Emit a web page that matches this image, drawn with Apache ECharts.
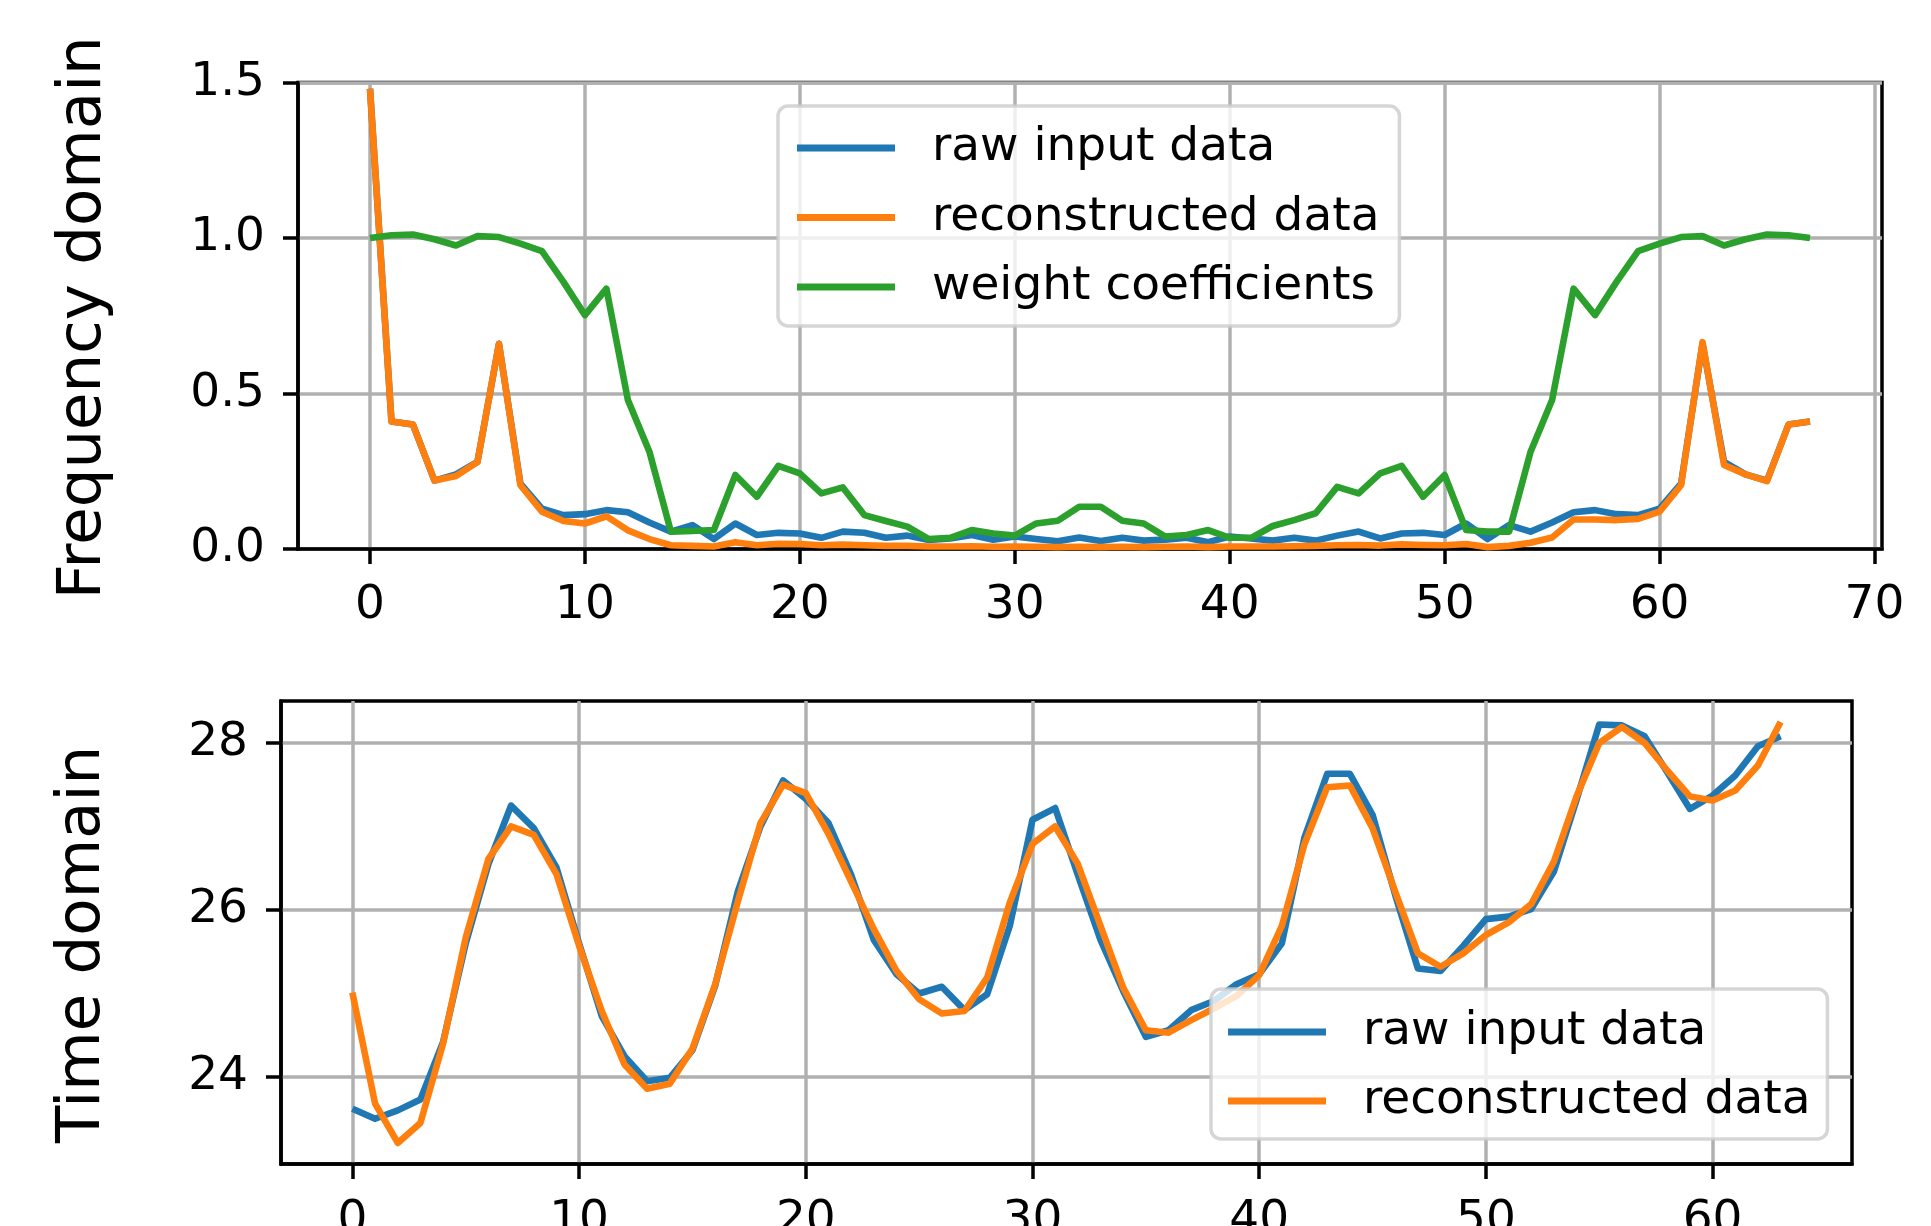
<!DOCTYPE html>
<html>
<head>
<meta charset="utf-8">
<script src="https://cdn.jsdelivr.net/npm/echarts@6/dist/echarts.min.js"></script>
<style>
html,body{margin:0;padding:0;background:#fff;}
#chart{width:1931px;height:1226px;}
</style>
</head>
<body>
<div id="chart"></div>
<script>
// ---- Data ----
const freqRaw = [1.48, 0.41, 0.40, 0.22, 0.24, 0.28, 0.66, 0.21, 0.13, 0.109,
  0.112, 0.125, 0.118, 0.085, 0.056, 0.077, 0.032, 0.082, 0.045, 0.052,
  0.050, 0.036, 0.056, 0.052, 0.036, 0.043, 0.029, 0.034, 0.045, 0.030,
  0.040, 0.032, 0.025, 0.037, 0.026, 0.036, 0.027, 0.030, 0.036, 0.022,
  0.040, 0.034, 0.027, 0.036, 0.027, 0.043, 0.056, 0.034, 0.050, 0.052,
  0.045, 0.082, 0.032, 0.077, 0.056, 0.085, 0.118, 0.125, 0.112, 0.109,
  0.130, 0.210, 0.660, 0.280, 0.240, 0.220, 0.400, 0.410];
const freqRecon = [1.48, 0.41, 0.40, 0.22, 0.235, 0.28, 0.66, 0.205, 0.12, 0.09,
  0.082, 0.105, 0.060, 0.032, 0.012, 0.010, 0.008, 0.022, 0.012, 0.017,
  0.016, 0.012, 0.014, 0.012, 0.010, 0.010, 0.008, 0.008, 0.009, 0.007,
  0.008, 0.007, 0.006, 0.007, 0.006, 0.007, 0.006, 0.007, 0.008, 0.006,
  0.008, 0.008, 0.008, 0.009, 0.010, 0.012, 0.013, 0.011, 0.015, 0.013,
  0.012, 0.016, 0.006, 0.010, 0.020, 0.037, 0.095, 0.095, 0.093, 0.097,
  0.120, 0.205, 0.665, 0.270, 0.240, 0.218, 0.400, 0.410];
const freqWeight = [1.0, 1.009, 1.011, 0.996, 0.976, 1.006, 1.003, 0.982, 0.958, 0.859,
  0.752, 0.837, 0.479, 0.313, 0.056, 0.058, 0.061, 0.238, 0.168, 0.267,
  0.243, 0.179, 0.198, 0.109, 0.090, 0.072, 0.032, 0.036, 0.061, 0.050,
  0.043, 0.082, 0.091, 0.136, 0.136, 0.091, 0.082, 0.040, 0.045, 0.061,
  0.036, 0.036, 0.074, 0.093, 0.115, 0.200, 0.179, 0.243, 0.267, 0.168,
  0.238, 0.061, 0.056, 0.056, 0.313, 0.479, 0.837, 0.752, 0.859, 0.958,
  0.982, 1.003, 1.006, 0.976, 0.996, 1.011, 1.009, 1.0];
const timeRaw = [23.62, 23.50, 23.60, 23.73, 24.42, 25.60, 26.55, 27.25, 26.98, 26.51,
  25.60, 24.73, 24.25, 23.95, 23.99, 24.32, 25.09, 26.22, 27.00, 27.55,
  27.33, 27.04, 26.42, 25.64, 25.23, 25.00, 25.08, 24.80, 24.99, 25.81,
  27.08, 27.22, 26.42, 25.64, 25.03, 24.48, 24.56, 24.80, 24.91, 25.11,
  25.23, 25.60, 26.87, 27.63, 27.63, 27.14, 26.18, 25.30, 25.27, 25.57,
  25.89, 25.92, 26.01, 26.46, 27.32, 28.22, 28.21, 28.08, 27.65, 27.21,
  27.37, 27.61, 27.96, 28.08];
const timeRecon = [25.01, 23.68, 23.21, 23.45, 24.40, 25.67, 26.61, 27.00, 26.90, 26.43,
  25.57, 24.79, 24.15, 23.86, 23.92, 24.34, 25.11, 26.10, 27.04, 27.50,
  27.40, 26.91, 26.34, 25.77, 25.27, 24.93, 24.76, 24.79, 25.19, 26.09,
  26.79, 27.00, 26.55, 25.81, 25.07, 24.56, 24.53, 24.68, 24.82, 24.97,
  25.22, 25.81, 26.79, 27.47, 27.49, 26.98, 26.22, 25.48, 25.32, 25.48,
  25.70, 25.85, 26.07, 26.58, 27.36, 28.00, 28.19, 28.00, 27.67, 27.36,
  27.31, 27.43, 27.73, 28.25];
const freqXTicks = [0, 10, 20, 30, 40, 50, 60, 70];
const freqYTicks = [0, 0.5, 1.0, 1.5];
const timeXTicks = [0, 10, 20, 30, 40, 50, 60];
const timeYTicks = [24, 26, 28];
const freqLegend = ['raw input data', 'reconstructed data', 'weight coefficients'];
const timeLegend = ['raw input data', 'reconstructed data'];

// ---- Helpers ----
const FONT = 'DejaVu Sans';
const FS = 47;
const COLORS = ['#1f77b4', '#ff7f0e', '#2ca02c'];
const LW = 6.6;
const pairs = arr => arr.map((v, i) => [i, v]);
function padExtent(lo, hi) { const m = (hi - lo) * 0.05; return [lo - m, hi + m]; }

const fx = padExtent(0, freqRaw.length - 1);
const tx = padExtent(0, timeRaw.length - 1);
const tAll = timeRaw.concat(timeRecon);
const ty = padExtent(Math.min.apply(null, tAll), Math.max.apply(null, tAll));

function xAxis(gridIndex, ext, ticks) {
  return {
    type: 'value', gridIndex, min: ext[0], max: ext[1],
    axisLine: { show: true, onZero: false, lineStyle: { color: '#000', width: 3.5 } },
    axisTick: { show: true, length: 15, customValues: ticks, lineStyle: { color: '#000', width: 3.5 } },
    axisLabel: { customValues: ticks, margin: 33, fontFamily: FONT, fontSize: FS, color: '#000',
      showMinLabel: true, showMaxLabel: true },
    splitLine: { show: true, lineStyle: { color: '#b0b0b0', width: 3.5 } }
  };
}
function yAxis(gridIndex, ext, ticks, name, gap, fmt, namePad) {
  return {
    type: 'value', gridIndex, min: ext[0], max: ext[1],
    name, nameLocation: 'middle', nameRotate: 90, nameGap: gap,
    nameTextStyle: { fontFamily: FONT, fontSize: 61, color: '#000', padding: namePad },
    axisLine: { show: true, onZero: false, lineStyle: { color: '#000', width: 3.5 } },
    axisTick: { show: true, length: 15, customValues: ticks, lineStyle: { color: '#000', width: 3.5 } },
    axisLabel: { customValues: ticks, margin: 33, fontFamily: FONT, fontSize: FS, color: '#000',
      formatter: fmt },
    splitLine: { show: true, lineStyle: { color: '#b0b0b0', width: 3.5 } }
  };
}
function line(name, data, xi, color, z) {
  return {
    type: 'line', name, data: pairs(data), xAxisIndex: xi, yAxisIndex: xi,
    showSymbol: false, symbol: 'none', z, animation: false,
    lineStyle: { color, width: LW, join: 'round', cap: 'butt' },
    itemStyle: { color }
  };
}
function legend(names, left, top, pad, gap) {
  return {
    data: names, orient: 'vertical', left, top, padding: pad, itemGap: gap,
    icon: 'rect', itemWidth: 98, itemHeight: 7, selectedMode: false,
    backgroundColor: 'rgba(255,255,255,0.8)', borderColor: 'rgba(204,204,204,0.8)',
    borderWidth: 3.5, borderRadius: 10,
    textStyle: { fontFamily: FONT, fontSize: FS, color: '#000', lineHeight: 50, padding: [0, 0, 0, 32] }
  };
}

const chart = echarts.init(document.getElementById('chart'), null, { renderer: 'canvas' });
chart.setOption({
  animation: false,
  backgroundColor: '#fff',
  grid: [
    { left: 298, right: 49, top: 82.5, height: 466.5, outerBoundsMode: 'none', containLabel: false,
      show: true, borderColor: '#000', borderWidth: 3.5, backgroundColor: 'transparent' },
    { left: 281, right: 79, top: 701, height: 463, outerBoundsMode: 'none', containLabel: false,
      show: true, borderColor: '#000', borderWidth: 3.5, backgroundColor: 'transparent' }
  ],
  xAxis: [xAxis(0, fx, freqXTicks), xAxis(1, tx, timeXTicks)],
  yAxis: [
    yAxis(0, [0, 1.5], freqYTicks, 'Frequency domain', 183, v => v.toFixed(1), [0, 4, 0, 0]),
    yAxis(1, ty, timeYTicks, 'Time domain', 167, v => String(Math.round(v)), [0, 24, 0, 0])
  ],
  legend: [
    legend(freqLegend, 778, 106, [17, 20, 14, 19], 19.5),
    legend(timeLegend, 1211, 989, [18, 17, 13, 17], 19)
  ],
  series: [
    line('raw input data', freqRaw, 0, COLORS[0], 2),
    line('reconstructed data', freqRecon, 0, COLORS[1], 3),
    line('weight coefficients', freqWeight, 0, COLORS[2], 4),
    line('raw input data', timeRaw, 1, COLORS[0], 2),
    line('reconstructed data', timeRecon, 1, COLORS[1], 3)
  ]
});
</script>
</body>
</html>
